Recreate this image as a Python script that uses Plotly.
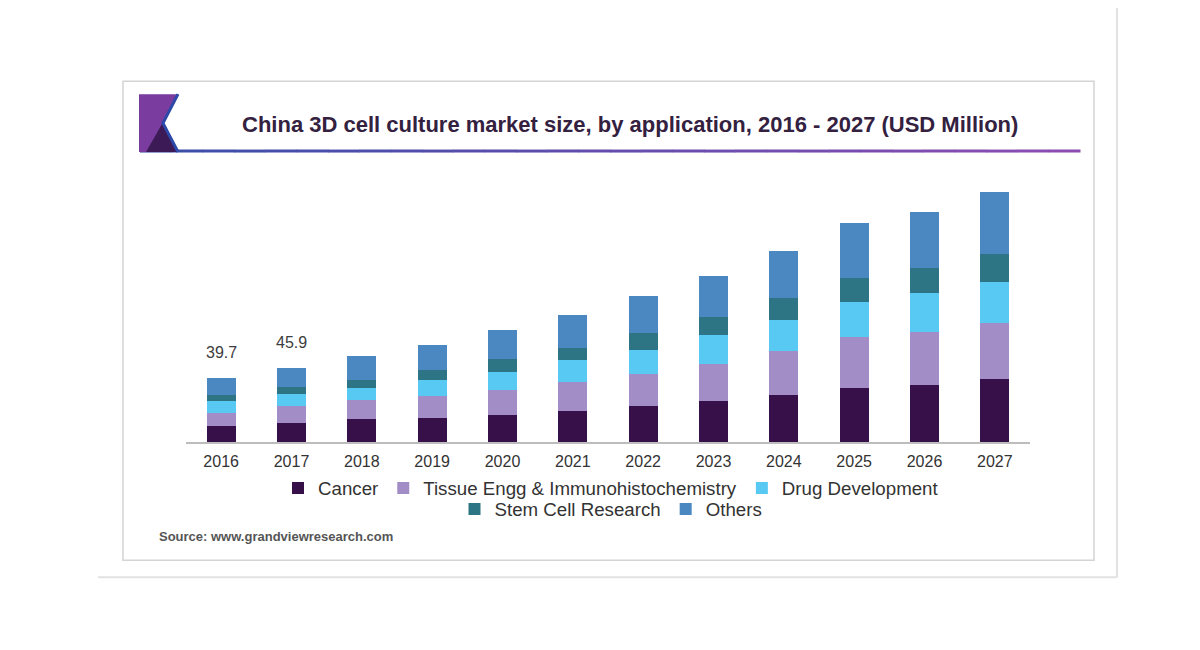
import plotly.graph_objects as go

years = ["2016", "2017", "2018", "2019", "2020", "2021", "2022", "2023", "2024", "2025", "2026", "2027"]
cancer = [9.9, 11.7, 14.0, 15.0, 16.8, 19.3, 22.4, 25.3, 29.2, 33.3, 35.3, 38.8]
tissue = [8.3, 10.5, 11.7, 13.7, 15.4, 17.7, 19.7, 23.0, 26.7, 31.4, 32.9, 34.9]
drug = [7.2, 7.7, 7.8, 9.9, 11.3, 13.7, 14.8, 17.9, 19.5, 21.9, 23.7, 25.3]
stem = [3.7, 3.8, 5.1, 5.7, 7.8, 7.6, 10.3, 11.3, 13.4, 14.4, 15.4, 17.1]
others = [10.6, 12.2, 14.4, 15.8, 17.9, 20.2, 22.8, 25.1, 29.2, 34.3, 34.5, 38.4]
labelled_totals = {"2016": "39.7", "2017": "45.9"}

series = [
    ("Cancer", cancer, "#371049", "legend"),
    ("Tissue Engg & Immunohistochemistry", tissue, "#a38dc6", "legend"),
    ("Drug Development", drug, "#57c9f3", "legend"),
    ("Stem Cell Research", stem, "#2d7484", "legend2"),
    ("Others", others, "#4b88c1", "legend2"),
]

# layout geometry (screen pixels of the reference); the page body adds an 8px offset
FW, FH = 1200, 650
OFF = 8
L, R, T, B = 186, 1030, 180, 442.5
W, H = R - L, B - T
YMAX = 161.8


def px(x):
    return (x - L) / W


def py(y):
    return (B - y) / H


fig = go.Figure()
for name, vals, color, lg in series:
    fig.add_trace(go.Bar(
        x=years, y=vals, name=name, marker=dict(color=color, line=dict(width=0)),
        legend=lg, hoverinfo="x+y+name",
    ))

totals = [round(sum(v), 1) for v in zip(cancer, tissue, drug, stem, others)]
annotations = []
for i, (yr, tot) in enumerate(zip(years, totals)):
    if yr in labelled_totals:
        annotations.append(dict(
            x=i, y=tot, xref="x", yref="y", text=labelled_totals[yr], showarrow=False,
            yanchor="middle", yshift=25, font=dict(size=16, color="#3d3d3d"),
        ))

annotations.append(dict(
    x=px(630), y=py(124), xref="paper", yref="paper", xanchor="center", yanchor="middle",
    text="<b>China 3D cell culture market size, by application, 2016 - 2027 (USD Million)</b>",
    showarrow=False, font=dict(size=22, color="#33213f"),
))
annotations.append(dict(
    x=px(157), y=py(537), xref="paper", yref="paper", xanchor="left", yanchor="middle",
    text="<b>Source: www.grandviewresearch.com</b>", showarrow=False,
    font=dict(size=13, color="#555555"),
))

shapes = []
# inner frame
shapes.append(dict(type="rect", xref="paper", yref="paper", x0=px(123), x1=px(1094), y0=py(81), y1=py(561),
                   line=dict(color="#d4d4d4", width=1.5), fillcolor="rgba(0,0,0,0)", layer="below"))
# outer partial frame
shapes.append(dict(type="line", xref="paper", yref="paper", x0=px(1117), x1=px(1117), y0=py(0), y1=py(578),
                   line=dict(color="#e2e2e2", width=2)))
shapes.append(dict(type="line", xref="paper", yref="paper", x0=px(98), x1=px(1117), y0=py(578), y1=py(578),
                   line=dict(color="#e2e2e2", width=2)))

# title underline gradient
c0 = (58, 78, 168)
c1 = (140, 76, 176)
n = 30
x_start, x_end = 140, 1080
for i in range(n):
    t = i / (n - 1)
    col = "rgb(%d,%d,%d)" % tuple(round(a + (b - a) * t) for a, b in zip(c0, c1))
    xa = x_start + (x_end - x_start) * i / n
    xb = x_start + (x_end - x_start) * (i + 1) / n
    shapes.append(dict(type="line", xref="paper", yref="paper", x0=px(xa), x1=px(xb + 0.5),
                       y0=py(151), y1=py(151), line=dict(color=col, width=3)))


def path(points):
    return "M " + " L ".join("%f,%f" % (px(a), py(b)) for a, b in points) + " Z"


# logo
shapes.append(dict(type="path", xref="paper", yref="paper",
                   path=path([(139, 94), (178, 94), (163, 123), (178, 152), (139, 152)]),
                   fillcolor="#7b3c9f", line=dict(width=0)))
shapes.append(dict(type="path", xref="paper", yref="paper",
                   path=path([(146, 152), (162, 124), (177, 152)]),
                   fillcolor="#3b1a55", line=dict(width=0)))
shapes.append(dict(type="path", xref="paper", yref="paper",
                   path="M %f,%f L %f,%f L %f,%f" % (px(178), py(94), px(163), py(123), px(178), py(152)),
                   line=dict(color="#2c48a8", width=3)))

legend_common = dict(orientation="h", xanchor="center", yanchor="middle", x=px(611),
                     bgcolor="rgba(0,0,0,0)", font=dict(size=18.7, color="#333333",
                                                         family="Liberation Sans, Arial, sans-serif"),
                     traceorder="normal")

fig.update_layout(
    width=FW, height=FH,
    margin=dict(l=L - OFF, r=FW - R + OFF, t=T - OFF, b=FH - B + OFF, pad=0),
    paper_bgcolor="white", plot_bgcolor="white",
    barmode="stack", bargap=0.588,
    font=dict(family="Liberation Sans, Arial, sans-serif", color="#333333"),
    xaxis=dict(type="category", range=[-0.5, 11.5], showgrid=False, zeroline=False,
               showline=True, linecolor="#bdbdbd", linewidth=1.5,
               ticks="outside", ticklen=4, tickcolor="rgba(0,0,0,0)",
               tickfont=dict(size=16, color="#333333"), fixedrange=True),
    yaxis=dict(visible=False, range=[0, YMAX], fixedrange=True),
    legend=dict(**legend_common, y=py(489)),
    legend2=dict(**legend_common, y=py(510)),
    annotations=annotations, shapes=shapes,
    showlegend=True,
)

fig.write_html("out.html")
